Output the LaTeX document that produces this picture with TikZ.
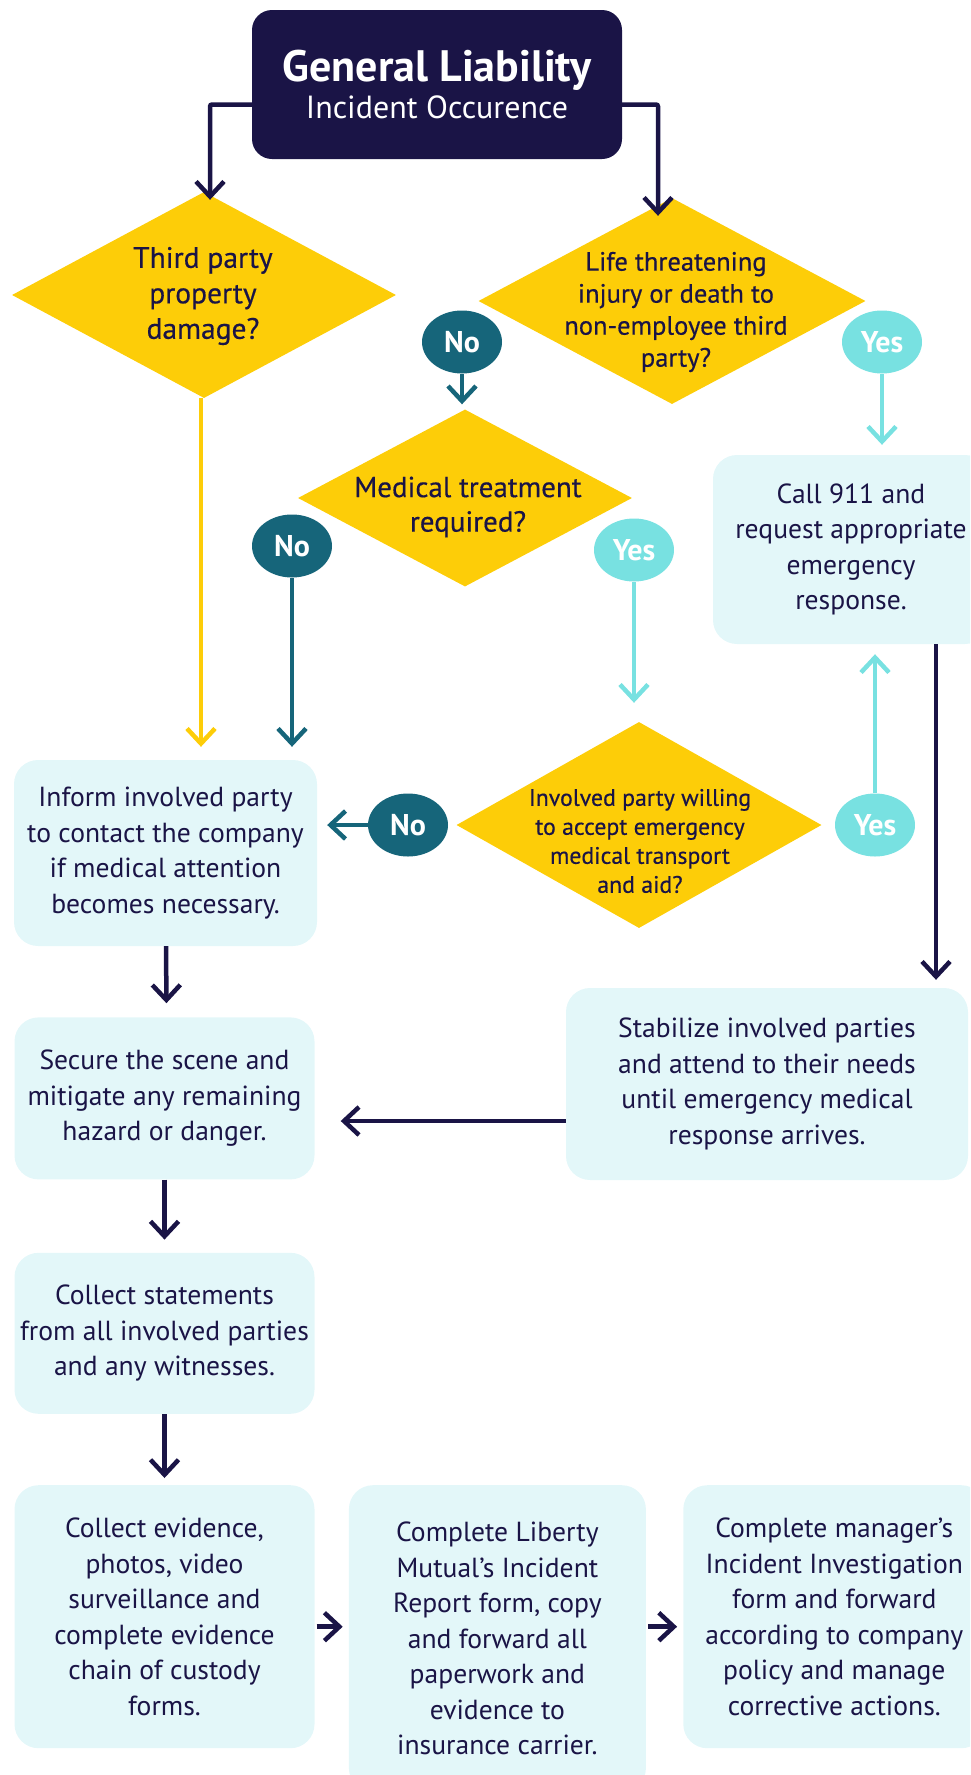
\documentclass[tikz,border=0pt]{standalone}
\usepackage{fontspec}
\setmainfont{PT Sans}
\newfontfamily\askfont{PT Sans}[FakeBold=0.4]
\usepackage{tikz}
\usetikzlibrary{positioning}
\usetikzlibrary{shapes.geometric}
\usetikzlibrary{arrows.meta}

\definecolor{lmnavy}{HTML}{1A1446}
\definecolor{lmgold}{HTML}{FDCD08}
\definecolor{lmteal}{HTML}{16657A}
\definecolor{lmaqua}{HTML}{78E1E1}
\definecolor{lmpale}{HTML}{E3F7F9}

\begin{document}
\begin{tikzpicture}[x=1pt,y=-1pt,
	node distance=71pt,
	box/.style={rectangle,rounded corners=24pt,fill=lmpale,text=lmnavy,align=center,inner sep=0pt,
		minimum width=300pt,font=\fontsize{27.6}{35.5}\selectfont},
	decision/.style={diamond,fill=lmgold,inner sep=0pt},
	ask/.style={align=center,text=lmnavy,inner sep=0pt},
	nobubble/.style={ellipse,fill=lmteal,text=white,inner sep=0pt,
		minimum width=80pt,minimum height=63pt,font=\bfseries\fontsize{30}{32}\selectfont},
	yesbubble/.style={nobubble,fill=lmaqua},
	flow/.style={line width=4.5pt,rounded corners=2pt,
		-{Straight Barb[length=15pt,width=28pt,line width=4.5pt]}}
	]
	\clip (0,0) rectangle (970,1775);

	% title
	\node [rectangle,rounded corners=20pt,fill=lmnavy,text=white,align=center,
		minimum width=370pt,minimum height=149pt] (title) at (437,84.5)
		{{\bfseries\fontsize{44}{46}\selectfont General Liability}\\[5pt]
		 {\fontsize{32}{36}\selectfont Incident Occurence}};

	% decisions
	\node [decision,minimum width=384pt,minimum height=206pt] (thirdparty) at (204,295) {};
	\node [ask,font=\askfont\fontsize{29.5}{35.5}\selectfont] (thirdparty-q) at (203,296)
		{Third party\\property\\damage?};
	\node [decision,minimum width=387pt,minimum height=206pt] (lifethreat) at (672,301) {};
	\node [ask,font=\askfont\fontsize{26.5}{32}\selectfont] (lifethreat-q) at (676,312)
		{Life threatening\\injury or death to\\non-employee third\\party?};
	\node [decision,minimum width=334pt,minimum height=177pt] (medical) at (465,498) {};
	\node [ask,font=\askfont\fontsize{29}{34.5}\selectfont] (medical-q) at (468,507)
		{Medical treatment\\required?};
	\node [decision,minimum width=365pt,minimum height=206pt] (transport) at (639,825) {};
	\node [ask,font=\askfont\fontsize{23.8}{29}\selectfont] (transport-q) at (640,841)
		{Involved party willing\\to accept emergency\\medical transport\\and aid?};

	% answers
	\node [nobubble] (no1) at (462,342) {No};
	\node [yesbubble] (yes1) at (882,342) {Yes};
	\node [nobubble] (no2) at (292,546) {No};
	\node [yesbubble] (yes2) at (634,550) {Yes};
	\node [nobubble] (no3) at (408,825) {No};
	\node [yesbubble] (yes3) at (875,825) {Yes};

	% steps
	\node [box,minimum width=276pt,minimum height=189pt] (call) at (851,549.5)
		{Call 911 and\\request appropriate\\emergency\\response.};
	\node [box,minimum width=402pt,minimum height=192pt] (stabilize) at (767,1084)
		{Stabilize involved parties\\and attend to their needs\\until emergency medical\\response arrives.};
	\node [box,minimum width=303pt,minimum height=186pt] (inform) at (165.5,853)
		{Inform involved party\\to contact the company\\if medical attention\\becomes necessary.};
	\node [box,minimum height=162pt] (secure) [below=of inform.south,anchor=north,xshift=-1pt] 
		{Secure the scene and\\mitigate any remaining\\hazard or danger.};
	\node [box,minimum height=161pt] (statements) [below=73pt of secure]
		{Collect statements\\from all involved parties\\and any witnesses.};
	\node [box,minimum height=263pt] (evidence) [below=of statements]
		{Collect evidence,\\photos, video\\surveillance and\\complete evidence\\chain of custody\\forms.};
	\node [box,minimum width=297pt,minimum height=307pt] (liberty)
		[right=34pt of evidence.north east,anchor=north west]
		{Complete Liberty\\Mutual's Incident\\Report form, copy\\and forward all\\paperwork and\\evidence to\\insurance carrier.};
	\node [box,minimum width=302pt,minimum height=263pt] (manager)
		[right=37pt of liberty.north east,anchor=north west]
		{Complete manager's\\Incident Investigation\\form and forward\\according to company\\policy and manage\\corrective actions.};

	% connectors
	\draw [flow,lmnavy] ([yshift=-20pt]title.west) -| ([xshift=6pt,yshift=-8pt]thirdparty.north);
	\draw [flow,lmnavy] ([yshift=-20pt]title.east) -| ([xshift=-14pt,yshift=-18pt]lifethreat.north);
	\draw [flow,lmgold,shorten >=13pt] ([xshift=-3pt]thirdparty.south) -- ([xshift=-3pt]thirdparty.south |- inform.north);
	\draw [flow,lmteal,shorten >=5pt] (no1) -- (medical.north -| no1);
	\draw [flow,lmteal,shorten >=13pt] (no2) -- (no2 |- inform.north);
	\draw [flow,lmaqua,shorten >=10pt] (yes1) -- (yes1 |- call.north);
	\draw [flow,lmaqua,shorten >=19pt] (yes2) -- (yes2 |- transport.north);
	\draw [flow,lmaqua,shorten >=10pt] (yes3) -- (yes3 |- call.south);
	\draw [flow,lmteal,shorten >=10pt] (no3) -- (no3 -| inform.east);
	\draw [flow,lmnavy,shorten >=8pt] (call.south -| 936,0) -- (stabilize.north -| 936,0);
	\draw [flow,lmnavy,shorten >=14pt] (inform) -- ([xshift=1pt]inform.south |- secure.north);
	\draw [flow,lmnavy,shorten >=26pt] ([yshift=-37pt]stabilize.west) -- ([yshift=-37pt]stabilize.west -| secure.east);
	\draw [flow,lmnavy,shorten >=13pt] (secure) -- (statements);
	\draw [flow,lmnavy,shorten >=7pt] (statements) -- (evidence);
	\draw [flow,lmnavy,shorten <=2pt,shorten >=6pt] ([yshift=-10pt]evidence.east) -- ([yshift=-10pt]evidence.east -| liberty.west);
	\draw [flow,lmnavy,shorten <=2pt,shorten >=6pt] ([yshift=-10pt]liberty.east |- evidence.east) -- ([yshift=-10pt]evidence.east -| manager.west);
\end{tikzpicture}
\end{document}
